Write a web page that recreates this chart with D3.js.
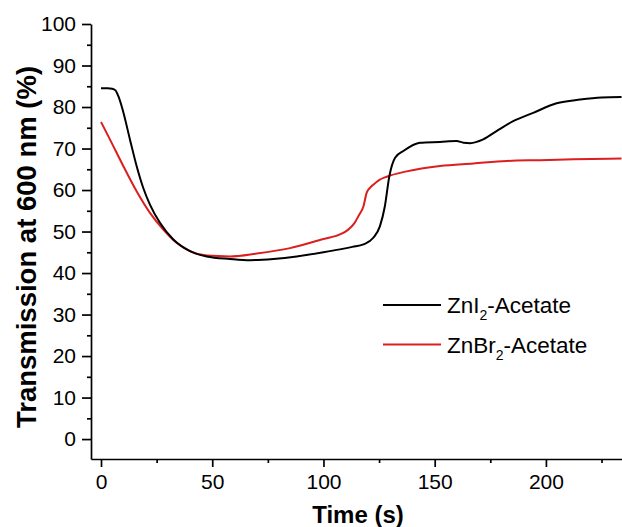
<!DOCTYPE html>
<html>
<head>
<meta charset="utf-8">
<script src="https://cdn.jsdelivr.net/npm/d3@7"></script>
<style>
  html, body { margin: 0; padding: 0; background: #fff; }
  svg { display: block; font-family: Arial, "Liberation Sans", sans-serif; }
</style>
</head>
<body>
<svg id="chart" width="622" height="527"></svg>
<script>
// Transmission at 600 nm versus time for two zinc halide acetate solutions
const timeZnI2 = [0, 3, 5, 6.5, 7.8, 9.7, 13, 16, 19, 22, 26.5, 32.5, 40, 47.5, 58, 67, 77.5, 88, 100, 107.4, 113, 118, 122.4, 125.4, 127.6, 129.6, 132.2, 135.9, 143.4, 152.4, 159.8, 163, 166, 171.8, 177.8, 185.3, 194.3, 204.8, 215.4, 225, 234];
const valZnI2  = [84.5, 84.5, 84.4, 84.0, 82.6, 79.4, 72.2, 65.8, 60.5, 56.5, 52.1, 48.1, 45.3, 44.0, 43.4, 43.1, 43.4, 44.0, 45.0, 45.7, 46.3, 46.9, 48.5, 51.3, 56.1, 63.3, 67.8, 69.4, 71.4, 71.6, 71.8, 71.4, 71.3, 72.2, 74.2, 76.6, 78.6, 80.9, 81.8, 82.3, 82.4];

const timeZnBr2 = [0, 4, 10, 16, 22, 28, 34, 40, 47.5, 58, 70, 85, 100, 107.4, 111, 114, 116, 118, 119.4, 121, 122.4, 125, 128.4, 137.4, 152.4, 167.4, 182.4, 197.4, 212.4, 234];
const valZnBr2  = [76.4, 72.2, 65.8, 59.7, 54.5, 50.5, 47.3, 45.3, 44.2, 44.0, 44.7, 46.0, 48.2, 49.3, 50.4, 52.1, 54.0, 56.1, 59.3, 60.6, 61.3, 62.4, 63.2, 64.5, 65.8, 66.4, 67.0, 67.2, 67.4, 67.6];

const xMajorTicks = [0, 50, 100, 150, 200];
const xMinorTicks = [25, 75, 125, 175, 225];
const yMajorTicks = [0, 10, 20, 30, 40, 50, 60, 70, 80, 90, 100];
const yMinorTicks = [5, 15, 25, 35, 45, 55, 65, 75, 85, 95];

const seriesNames = ["ZnI", "ZnBr"];
const seriesColors = ["#000000", "#dc1e1e"];

const svg = d3.select("#chart");
const plotLeft = 91, plotRight = 622, plotTop = 24, plotBottom = 459;

const x = d3.scaleLinear().domain([-4.5, 234.2]).range([plotLeft, plotRight]);
const y = d3.scaleLinear().domain([-4.8, 100]).range([plotBottom, plotTop]);

// axes: outward major ticks with labels, shorter minor ticks
const axisStroke = 1.7;
const gx = svg.append("g").attr("transform", `translate(0,${plotBottom})`)
  .call(d3.axisBottom(x).tickValues(xMajorTicks).tickSize(8).tickSizeOuter(0).tickPadding(7));
gx.append("g").call(d3.axisBottom(x).tickValues(xMinorTicks).tickSize(4).tickSizeOuter(0).tickFormat(""))
  .select(".domain").remove();

const gy = svg.append("g").attr("transform", `translate(${plotLeft},0)`)
  .call(d3.axisLeft(y).tickValues(yMajorTicks).tickSize(9).tickSizeOuter(0).tickPadding(6));
gy.append("g").call(d3.axisLeft(y).tickValues(yMinorTicks).tickSize(4).tickSizeOuter(0).tickFormat(""))
  .select(".domain").remove();

svg.selectAll(".domain").attr("stroke", "#000").attr("stroke-width", axisStroke);
svg.selectAll(".tick line").attr("stroke", "#000").attr("stroke-width", axisStroke);
svg.selectAll(".tick text").attr("fill", "#000").style("font-size", "21px")
  .style("font-family", "Arial, 'Liberation Sans', sans-serif");
gx.selectAll(".tick text").attr("dy", "0.71em");

// axis titles
svg.append("text")
  .attr("x", 358).attr("y", 523)
  .attr("text-anchor", "middle")
  .style("font-size", "24px").style("font-weight", "bold")
  .text("Time (s)");

svg.append("text")
  .attr("transform", "translate(36,247) rotate(-90)")
  .attr("text-anchor", "middle")
  .style("font-size", "27.5px").style("font-weight", "bold")
  .text("Transmission at 600 nm (%)");

// curves
svg.append("clipPath").attr("id", "plotClip")
  .append("rect").attr("x", plotLeft).attr("y", plotTop - 5)
  .attr("width", plotRight - plotLeft).attr("height", plotBottom - plotTop + 5);

const line = d3.line()
  .x(d => x(d[0]))
  .y(d => y(d[1]))
  .curve(d3.curveMonotoneX);

const dataZnI2 = timeZnI2.map((t, i) => [t, valZnI2[i]]);
const dataZnBr2 = timeZnBr2.map((t, i) => [t, valZnBr2[i]]);

const plot = svg.append("g").attr("clip-path", "url(#plotClip)");
plot.append("path").datum(dataZnBr2)
  .attr("fill", "none").attr("stroke", seriesColors[1]).attr("stroke-width", 2)
  .attr("stroke-linejoin", "round").attr("d", line);
plot.append("path").datum(dataZnI2)
  .attr("fill", "none").attr("stroke", seriesColors[0]).attr("stroke-width", 2)
  .attr("stroke-linejoin", "round").attr("d", line);

// legend
const legend = svg.append("g");
const legendRows = [
  { name: seriesNames[0], color: seriesColors[0], y: 305 },
  { name: seriesNames[1], color: seriesColors[1], y: 344.5 }
];
legendRows.forEach(r => {
  legend.append("line")
    .attr("x1", 383).attr("x2", 441).attr("y1", r.y).attr("y2", r.y)
    .attr("stroke", r.color).attr("stroke-width", 2);
  const t = legend.append("text")
    .attr("x", 447).attr("y", r.y + 8)
    .style("font-size", "22.5px");
  t.append("tspan").text(r.name);
  t.append("tspan").attr("dy", 7).style("font-size", "14px").text("2");
  t.append("tspan").attr("dy", -7).text("-Acetate");
});
</script>
</body>
</html>
